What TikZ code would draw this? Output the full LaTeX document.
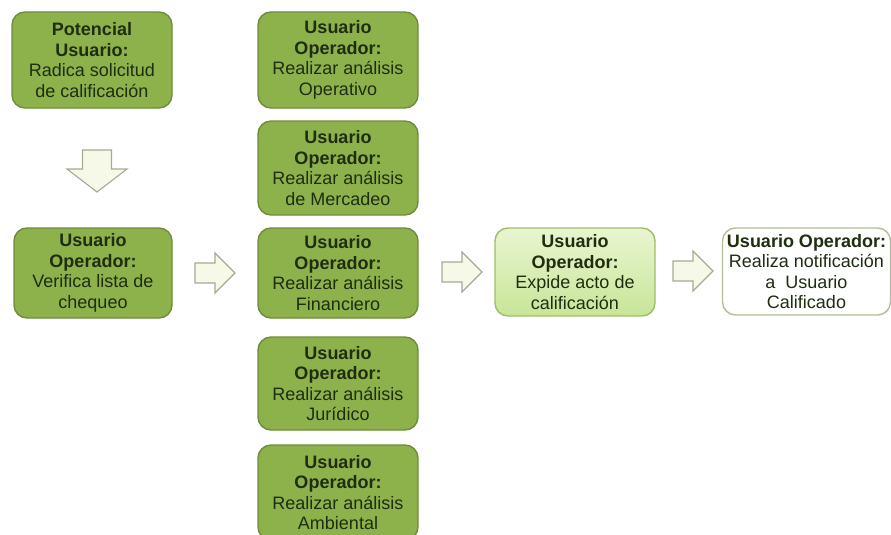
\documentclass[tikz,border=0pt]{standalone}
\usepackage{fontspec}
\setmainfont{Liberation Sans}
\usetikzlibrary{calc}
\definecolor{boxfill}{HTML}{8DB24C}
\definecolor{boxedge}{HTML}{6E8C3C}
\definecolor{txtcol}{HTML}{1F2D10}
\definecolor{arrfill}{HTML}{F6F9E8}
\definecolor{arredge}{HTML}{A6AA94}
\definecolor{lightedge}{HTML}{9EBD6C}
\definecolor{lighttop}{HTML}{E8F6D0}
\definecolor{lightbot}{HTML}{C8E598}
\definecolor{whiteedge}{HTML}{B4BC98}
\tikzset{
  basebox/.style={rectangle, rounded corners=13pt, line width=1.4pt, inner sep=0pt,
    align=center, text=txtcol, font=\fontsize{18}{20.5}\selectfont},
  greenbox/.style={basebox, fill=boxfill, draw=boxedge},
  lightbox/.style={basebox, draw=lightedge, top color=lighttop, bottom color=lightbot},
  whitebox/.style={basebox, fill=white, draw=whiteedge},
  blockarrow/.style={fill=arrfill, draw=arredge, line width=1.1pt, line join=miter},
  rarr/.pic={\draw[blockarrow] (-20,-10) -- (0,-10) -- (0,-20) -- (20,0) -- (0,20) -- (0,10) -- (-20,10) -- cycle;},
  darr/.pic={\draw[blockarrow] (-14.5,-19) -- (14.5,-19) -- (14.5,0) -- (30,0) -- (0,23) -- (-30,0) -- (-14.5,0) -- cycle;}
}
\begin{document}
\begin{tikzpicture}[x=1pt,y=-1pt]
\useasboundingbox (0,0) rectangle (891,535);
\node[greenbox, minimum width=160pt, minimum height=96pt] (b1) at (92,60)
  {\textbf{Potencial}\\\textbf{Usuario:}\\Radica solicitud\\de calificación};
\node[greenbox, minimum width=158pt, minimum height=90pt] (b2) at (93,273)
  {\textbf{Usuario}\\\textbf{Operador:}\\Verifica lista de\\chequeo};
\node[greenbox, minimum width=160pt, minimum height=96pt] (m1) at (338,60)
  {\textbf{Usuario}\\\textbf{Operador:}\\Realizar análisis\\Operativo};
\node[greenbox, minimum width=160pt, minimum height=94pt] (m2) at (338,168)
  {\textbf{Usuario}\\\textbf{Operador:}\\Realizar análisis\\de Mercadeo};
\node[greenbox, minimum width=160pt, minimum height=90pt] (m3) at (338,273)
  {\textbf{Usuario}\\\textbf{Operador:}\\Realizar análisis\\Financiero};
\node[greenbox, minimum width=160pt, minimum height=93pt] (m4) at (338,383.5)
  {\textbf{Usuario}\\\textbf{Operador:}\\Realizar análisis\\Jurídico};
\node[greenbox, minimum width=160pt, minimum height=95pt] (m5) at (338,492.5)
  {\textbf{Usuario}\\\textbf{Operador:}\\Realizar análisis\\Ambiental};
\node[lightbox, minimum width=160pt, minimum height=88pt] (e) at (575,272)
  {\textbf{Usuario}\\\textbf{Operador:}\\Expide acto de\\calificación};
\node[whitebox, minimum width=168pt, minimum height=87pt] (f) at (806.5,271.5)
  {\textbf{Usuario Operador:}\\Realiza notificación\\a\ \ Usuario\\Calificado};
\pic at (97,169) {darr};
\pic at (215,273) {rarr};
\pic at (462,272) {rarr};
\pic at (693,271) {rarr};
\end{tikzpicture}
\end{document}
